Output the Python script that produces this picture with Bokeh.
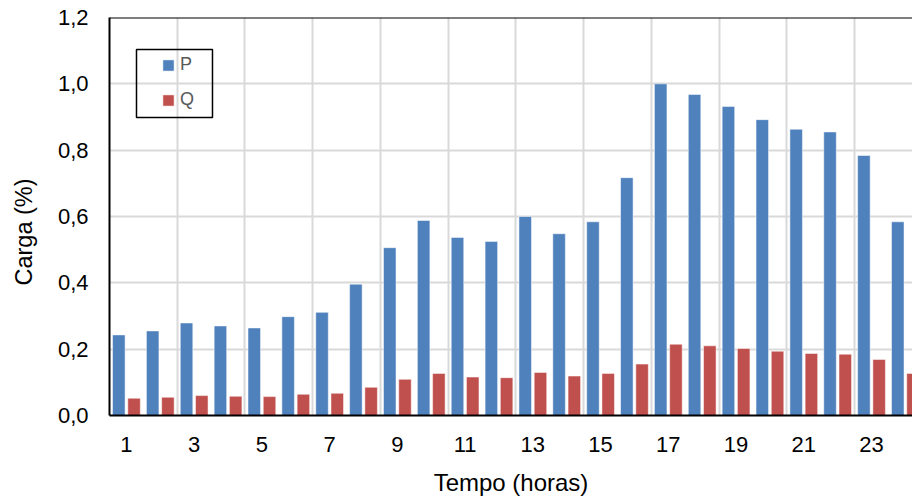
import math
from bokeh.plotting import figure
from bokeh.models import (Range1d, FixedTicker, CustomJSTickFormatter, Span, Title,
                          BoxAnnotation, Legend, LegendItem, ColumnDataSource)
from bokeh.transform import dodge
from bokeh.embed import file_html
from bokeh.resources import INLINE

hours = list(range(1, 25))
p_vals = [0.243, 0.255, 0.279, 0.270, 0.264, 0.298, 0.311, 0.396, 0.506, 0.588,
          0.537, 0.525, 0.600, 0.548, 0.584, 0.717, 1.000, 0.968, 0.932, 0.892,
          0.863, 0.855, 0.784, 0.584]
q_vals = [0.052, 0.055, 0.060, 0.058, 0.057, 0.064, 0.067, 0.085, 0.109, 0.127,
          0.116, 0.114, 0.130, 0.119, 0.127, 0.155, 0.215, 0.210, 0.202, 0.194,
          0.187, 0.185, 0.169, 0.127]
x_tick_labels = [1, 3, 5, 7, 9, 11, 13, 15, 17, 19, 21, 23]
y_ticks = [0.0, 0.2, 0.4, 0.6, 0.8, 1.0, 1.2]

FONT = "Liberation Sans"
BLUE = "#4F81BD"
RED = "#C0504D"

src = ColumnDataSource(data=dict(hour=hours, P=p_vals, Q=q_vals))

p = figure(width=912, height=498, output_backend="svg", toolbar_location=None,
           x_range=Range1d(0.5, 24.21), y_range=Range1d(0, 1.2),
           min_border_left=109, min_border_right=0, min_border_top=17,
           min_border_bottom=83, background_fill_color="white",
           border_fill_color="white")
p.outline_line_color = None

rp = p.vbar(x=dodge("hour", -0.225, range=p.x_range), top="P", width=0.37, source=src,
            fill_color=BLUE, line_color="white", line_alpha=0.5, line_width=1)
rq = p.vbar(x=dodge("hour", 0.225, range=p.x_range), top="Q", width=0.37, source=src,
            fill_color=RED, line_color="white", line_alpha=0.5, line_width=1)

# axes
p.xaxis.ticker = FixedTicker(ticks=x_tick_labels)
p.yaxis.ticker = FixedTicker(ticks=y_ticks)
p.yaxis.formatter = CustomJSTickFormatter(code="return tick.toFixed(1).replace('.', ',');")
for ax in (p.xaxis[0], p.yaxis[0]):
    ax.axis_line_color = "black"
    ax.axis_line_width = 2
    ax.major_tick_line_color = None
    ax.minor_tick_line_color = None
    ax.major_label_text_font = FONT
    ax.major_label_text_font_size = "22px"
    ax.major_label_text_color = "black"
    ax.axis_label_text_font = FONT
    ax.axis_label_text_font_size = "24px"
    ax.axis_label_text_font_style = "normal"
    ax.axis_label_text_color = "black"
p.xaxis.major_label_standoff = 15
p.yaxis.major_label_standoff = 15
p.xaxis.axis_label = "Tempo (horas)"
p.xaxis.axis_label_standoff = 14
# tiny invisible spacer label to push the y title outward a few pixels
p.yaxis.axis_label = " "
p.yaxis.axis_label_text_font_size = "1px"
p.yaxis.axis_label_standoff = 9

# grids
p.xgrid.ticker = FixedTicker(ticks=[h + 0.5 for h in hours if h % 2 == 0])
p.xgrid.grid_line_color = "#d9d9d9"
p.xgrid.grid_line_width = 2
p.ygrid.grid_line_color = "#d9d9d9"
p.ygrid.grid_line_width = 2

# top border
p.add_layout(Span(location=1.2, dimension="width", line_color="black", line_width=2))

# y axis title
p.add_layout(Title(text="Carga (%)", align="left", offset=130, standoff=10,
                   text_font=FONT, text_font_size="23.5px", text_font_style="normal",
                   text_color="black"), "left")

# legend box
p.add_layout(BoxAnnotation(left=1.297, right=3.541, top=1.1035, bottom=0.8985,
                           fill_alpha=0, line_color="black", line_alpha=1,
                           line_width=1.5))

legend = Legend(items=[LegendItem(label="P", renderers=[rp]),
                       LegendItem(label="Q", renderers=[rq])],
                location=(52, 305), margin=0, padding=0, spacing=14,
                glyph_width=14, glyph_height=14, label_height=20,
                label_standoff=5, border_line_color=None,
                background_fill_alpha=0, label_text_font=FONT,
                label_text_font_size="18px", label_text_color="#595959")
p.add_layout(legend)

open("out.html", "w").write(file_html(p, INLINE))
